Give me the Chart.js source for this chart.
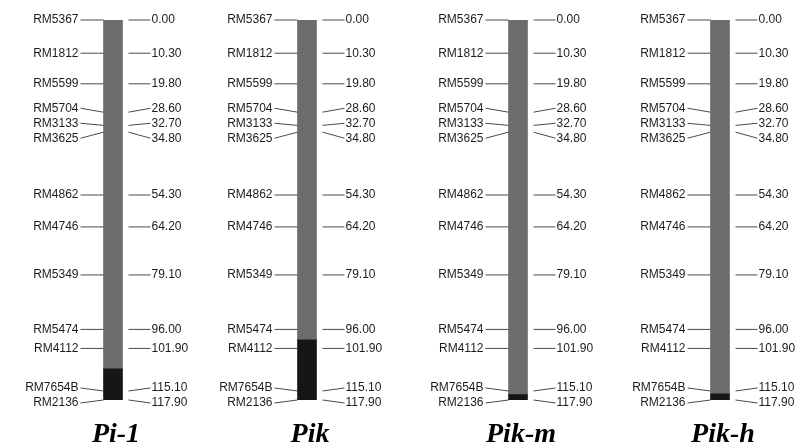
<!DOCTYPE html>
<html>
<head>
<meta charset="utf-8">
<script src="https://cdn.jsdelivr.net/npm/chart.js@4.4.1/dist/chart.umd.min.js"></script>
<style>
    html, body {
        margin: 0;
        padding: 0;
        background: #ffffff;
        width: 796px;
        height: 447px;
        overflow: hidden;
    }

    .panel {
        position: absolute;
        top: 0;
    }
</style>
</head>
<body>

<div class="panel" id="p0"><canvas id="c0" width="200" height="447"></canvas></div>
<div class="panel" id="p1"><canvas id="c1" width="200" height="447"></canvas></div>
<div class="panel" id="p2"><canvas id="c2" width="200" height="447"></canvas></div>
<div class="panel" id="p3"><canvas id="c3" width="200" height="447"></canvas></div>

<script>

// DATOS
const marcadores = [
    'RM5367', 'RM1812', 'RM5599', 'RM5704', 'RM3133', 'RM3625',
    'RM4862', 'RM4746', 'RM5349', 'RM5474', 'RM4112', 'RM7654B', 'RM2136'
];

const posiciones = [
    0.00, 10.30, 19.80, 28.60, 32.70, 34.80,
    54.30, 64.20, 79.10, 96.00, 101.90, 115.10, 117.90
];

const genes = ['Pi-1', 'Pik', 'Pik-m', 'Pik-h'];

// inicio de la region oscura (cM) en cada cromosoma
const inicioRegion = [108.0, 99.0, 116.0, 115.8];

const largo = 117.90;

// LAYOUT
const centrosX = [112.5, 307, 517.5, 720];
const anchoPanel = 200;

// separa etiquetas que se superponen
function repartir(ys, gap) {

    const pos = ys.slice();

    for (let it = 0; it < 200; it++) {

        let movido = false;

        for (let i = 1; i < pos.length; i++) {

            const d = pos[i] - pos[i - 1];

            if (d < gap - 0.01) {
                const s = (gap - d) / 2;
                pos[i - 1] -= s;
                pos[i] += s;
                movido = true;
            }
        }

        if (!movido) break;
    }

    return pos;
}

const etiquetasPlugin = {

    id: 'etiquetas',

    afterDatasetsDraw(chart, args, opts) {

        const ctx = chart.ctx;
        const y = chart.scales.y;
        const barra = chart.getDatasetMeta(0).data[0];

        const izq = barra.x - barra.width / 2;
        const der = barra.x + barra.width / 2;

        const reales = posiciones.map(p => y.getPixelForValue(p));
        const etiq = repartir(reales, 15);

        ctx.save();

        ctx.strokeStyle = '#4a4a4a';
        ctx.lineWidth = 1;
        ctx.fillStyle = '#1c1c1c';
        ctx.font = '12px "Liberation Sans", Arial, sans-serif';
        ctx.textBaseline = 'middle';

        posiciones.forEach((p, i) => {

            // linea izquierda
            ctx.beginPath();
            ctx.moveTo(izq - 23, etiq[i]);
            ctx.lineTo(izq, reales[i]);
            ctx.stroke();

            // linea derecha
            ctx.beginPath();
            ctx.moveTo(der + 6, reales[i]);
            ctx.lineTo(der + 28, etiq[i]);
            ctx.stroke();

            ctx.textAlign = 'right';
            ctx.fillText(marcadores[i], izq - 25, etiq[i]);

            ctx.textAlign = 'left';
            ctx.fillText(p.toFixed(2), der + 29, etiq[i]);
        });

        // nombre del gen
        ctx.fillStyle = '#000000';
        ctx.font = 'italic bold 28px "Liberation Serif", "Times New Roman", serif';
        ctx.textAlign = 'center';
        ctx.textBaseline = 'alphabetic';
        ctx.fillText(opts.gen, barra.x + 3, 442);

        ctx.restore();
    }
};

genes.forEach((gen, k) => {

    const panel = document.getElementById('p' + k);
    panel.style.left = (centrosX[k] - anchoPanel / 2) + 'px';

    new Chart(

        document.getElementById('c' + k),

        {
            type: 'bar',

            data: {

                labels: [gen],

                datasets: [
                    {
                        data: [[0, inicioRegion[k]]],
                        backgroundColor: '#6c6c6c',
                        borderWidth: 0
                    },
                    {
                        data: [[inicioRegion[k], largo]],
                        backgroundColor: '#161616',
                        borderWidth: 0
                    }
                ]
            },

            options: {

                responsive: false,
                animation: false,
                devicePixelRatio: 1,

                layout: {
                    padding: {
                        top: 20,
                        bottom: 47,
                        left: 0,
                        right: 0
                    }
                },

                datasets: {
                    bar: {
                        grouped: false,
                        barThickness: 19
                    }
                },

                scales: {
                    x: {
                        display: false
                    },
                    y: {
                        display: false,
                        reverse: true,
                        min: 0,
                        max: largo
                    }
                },

                plugins: {
                    legend: { display: false },
                    tooltip: { enabled: false },
                    etiquetas: { gen: gen }
                }
            },

            plugins: [etiquetasPlugin]
        }
    );
});

</script>
</body>
</html>
